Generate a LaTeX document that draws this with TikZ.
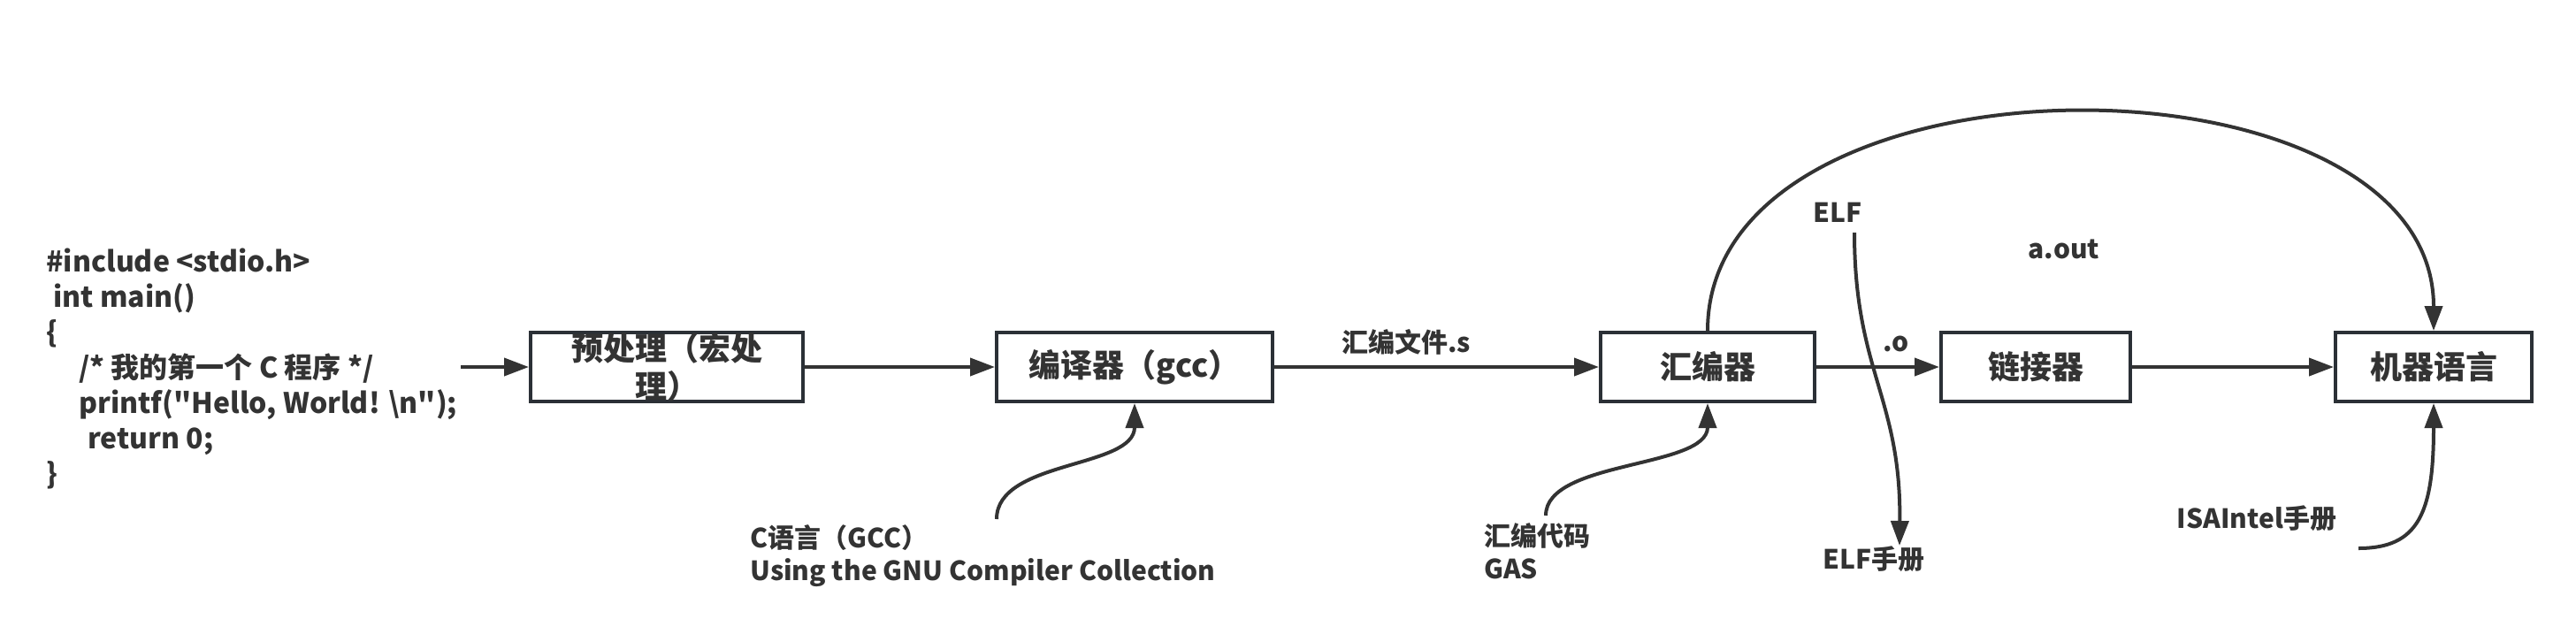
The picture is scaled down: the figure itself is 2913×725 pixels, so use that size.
\documentclass[tikz,border=0pt]{standalone}
\usepackage{fontspec}
\setmainfont{Noto Sans CJK SC}[Ligatures=TeXOff]
\usetikzlibrary{arrows.meta}
\definecolor{ink}{HTML}{333333}
\definecolor{rim}{HTML}{2B3036}
\tikzset{
  procbox/.style={draw=rim, line width=2pt, fill=white, minimum height=39pt, inner sep=0pt,
    font=\fontsize{18pt}{21.5pt}\selectfont\bfseries, text=ink, align=center},
  lbl/.style={font=\fontsize{15pt}{18pt}\selectfont\bfseries, text=ink, inner sep=0pt},
  note/.style={font=\fontsize{15pt}{18.5pt}\selectfont\bfseries, text=ink, inner sep=0pt, align=left},
  arr/.style={draw=ink, line width=2pt, -{Triangle[length=14pt,width=10pt]}},
}
\begin{document}
\begin{tikzpicture}[x=0.5pt,y=-0.5pt]
\useasboundingbox (0,0) rectangle (2913,725);
% code
\node[anchor=west, font=\fontsize{16pt}{20pt}\selectfont\bfseries, text=ink, inner sep=0pt, align=left] (code) at (52,417)
 {\#include <stdio.h>\\
  \hspace*{4pt}int main()\\
  \{\\
  \hspace*{18.5pt}/* 我的第一个 C 程序 */\\
  \hspace*{18.5pt}printf("Hello, World! \textbackslash n");\\
  \hspace*{23.5pt}return 0;\\
  \}};
% boxes
\node[procbox, minimum width=154pt] (b1) at (754,415) {预处理（宏处\\理）};
\node[procbox, minimum width=156pt] (b2) at (1283,415) {编译器（gcc）};
\node[procbox, minimum width=121pt] (b3) at (1931,415) {汇编器};
\node[procbox, minimum width=107pt] (b4) at (2302,415) {链接器};
\node[procbox, minimum width=111pt] (b5) at (2752,415) {机器语言};
% labels
\node[lbl] (ls) at (1590,387) {汇编文件.s};
\node[lbl] (lo) at (2144,389) {.o};
\node[lbl] (lelf) at (2078,240) {ELF};
\node[lbl] (laout) at (2334,282) {a.out};
\node[note, anchor=west] (nc) at (848,629) {C语言（GCC）\\Using the GNU Compiler Collection};
\node[note, anchor=west] (ng) at (1678,623) {汇编代码\\GAS};
\node[lbl] (nelf) at (2119,632) {ELF手册};
\node[lbl] (nisa) at (2552,586) {ISAIntel手册};
% coordinates
\coordinate (cin) at (521,415);
\coordinate (cs) at (1127,587);
\coordinate (gs) at (1748,583);
\coordinate (es) at (2097,263);
\coordinate (ee) at (2148,617);
\coordinate (is) at (2667,620);
% connectors
\draw[arr] (cin) -- (b1);
\draw[arr] (b1) -- (b2);
\draw[arr] (b2) -- (b3);
\draw[arr] (b3) -- (b4);
\draw[arr] (b4) -- (b5);
\draw[arr] (b3.north) .. controls +(0,-328) and +(0,-328) .. (b5.north);
\draw[arr] (cs) .. controls (1127,520) and (1283,530) .. (b2.south);
\draw[arr] (gs) .. controls (1748,520) and (1931,530) .. (b3.south);
\draw[arr] (es) .. controls (2097,420) and (2150,450) .. (ee);
\draw[arr] (is) .. controls (2735,620) and (2752,580) .. (b5.south);
\end{tikzpicture}
\end{document}
